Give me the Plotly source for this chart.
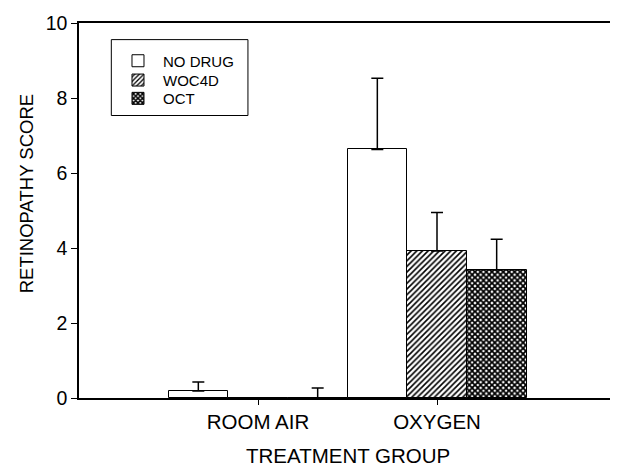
import plotly.graph_objects as go

categories = ["ROOM AIR", "OXYGEN"]
series_names = ["NO DRUG", "WOC4D", "OCT"]
no_drug = [0.19, 6.63]
no_drug_err = [0.24, 1.90]
woc4d = [0.0, 3.92]
woc4d_err = [None, 1.03]
oct_vals = [0.0, 3.42]
oct_err = [0.27, 0.81]
y_ticks = [0, 2, 4, 6, 8, 10]

FONT = "Liberation Sans, Arial, sans-serif"

fig = go.Figure()

styles = [
    dict(shape="", bgcolor="white", fgcolor="black", size=5, solidity=0.3),
    dict(shape="/", bgcolor="white", fgcolor="black", size=4, solidity=0.4,
         fillmode="replace"),
    dict(shape="x", bgcolor="white", fgcolor="black", size=4, solidity=0.7,
         fillmode="replace"),
]
vals = [no_drug, woc4d, oct_vals]
errs = [no_drug_err, woc4d_err, oct_err]
legend_ids = ["legend", "legend2", "legend3"]
legend_y = [0.8987, 0.8472, 0.7984]

for name, v, e, st, lg in zip(series_names, vals, errs, styles, legend_ids):
    fig.add_trace(go.Bar(
        name=name, x=categories, y=v, legend=lg,
        marker=dict(color="white", line=dict(color="black", width=1),
                    pattern=st),
        error_y=dict(type="data", symmetric=False, array=e,
                     arrayminus=[0] * len(e), color="black",
                     thickness=1.5, width=6),
    ))

legend_style = dict(
    x=0.0633, xanchor="left", yanchor="middle",
    borderwidth=0, bgcolor="rgba(0,0,0,0)",
    font=dict(family=FONT, size=15, color="black"),
    itemwidth=40,
)

# page body has an 8px default margin, so the figure is 8px smaller
fig.update_layout(
    width=610, height=458,
    margin=dict(l=71, r=2, t=15, b=68),
    barmode="group", bargap=0, bargroupgap=0,
    plot_bgcolor="white", paper_bgcolor="white",
    font=dict(family=FONT, color="black", size=19),
    showlegend=True,
    legend=dict(legend_style, y=legend_y[0]),
    legend2=dict(legend_style, y=legend_y[1]),
    legend3=dict(legend_style, y=legend_y[2]),
    shapes=[dict(type="rect", xref="paper", yref="paper",
                 x0=0.0602, x1=0.3146, y0=0.7533, y1=0.9557,
                 line=dict(color="black", width=1), fillcolor="rgba(0,0,0,0)")],
    xaxis=dict(
        type="category", range=[-1, 2], automargin=False,
        showline=True, linecolor="black", linewidth=1.5, mirror=True,
        ticks="outside", ticklen=5, tickcolor="black", tickwidth=1,
        showgrid=False, zeroline=False,
        tickfont=dict(size=20.5),
    ),
    yaxis=dict(
        range=[0, 10], tickvals=y_ticks, automargin=False,
        showline=True, linecolor="black", linewidth=1.5, mirror=True,
        ticks="outside", ticklen=6, tickcolor="black", tickwidth=1,
        showgrid=False, zeroline=False,
        tickfont=dict(size=19.5),
    ),
    annotations=[
        dict(text="TREATMENT GROUP", xref="paper", yref="paper",
             x=0.5, y=-0.1528, xanchor="center", yanchor="middle",
             showarrow=False, font=dict(size=20.5)),
        dict(text="RETINOPATHY SCORE", xref="paper", yref="paper",
             x=-0.0978, y=0.5445, xanchor="center", yanchor="middle",
             textangle=-90, showarrow=False, font=dict(size=18.5)),
    ],
)

fig.write_html("out.html")
